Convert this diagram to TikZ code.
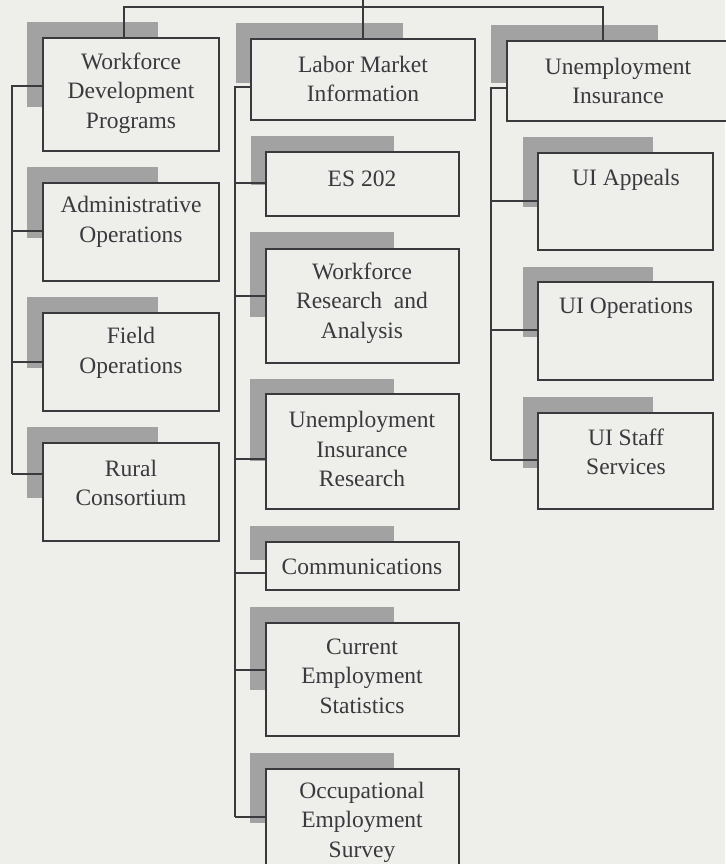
\documentclass[tikz,border=0pt]{standalone}
\usepackage{fontspec}
\setmainfont{Liberation Serif}
\usetikzlibrary{fit}
\definecolor{bg}{RGB}{238,238,235}
\definecolor{ink}{RGB}{58,58,62}
\definecolor{shade}{RGB}{162,162,162}
\begin{document}
\begin{tikzpicture}[x=1pt,y=-1pt,
  box/.style={draw=ink,line width=1.4pt,fill=bg,inner sep=0pt,outer sep=0pt,rectangle},
  lbl/.style={text=ink,align=center,inner sep=0pt,font=\fontsize{23.5pt}{29.5pt}\selectfont},
  conn/.style={draw=ink,line width=1.2pt},
  shadowbox/.style={fill=shade}]
\useasboundingbox[fill=bg] (0,0) rectangle (725,864);
% shadows
\fill[shadowbox] (27,22) rectangle (158,107);
\fill[shadowbox] (27,167) rectangle (158,238);
\fill[shadowbox] (27,297) rectangle (158,368);
\fill[shadowbox] (27,427) rectangle (158,498);
\fill[shadowbox] (236,23) rectangle (403,83);
\fill[shadowbox] (251,136) rectangle (394,185);
\fill[shadowbox] (250,232) rectangle (394,317);
\fill[shadowbox] (250,379) rectangle (394,461);
\fill[shadowbox] (250,526) rectangle (394,560);
\fill[shadowbox] (250,607) rectangle (394,690);
\fill[shadowbox] (250,753) rectangle (394,823);
\fill[shadowbox] (491,25) rectangle (658,83);
\fill[shadowbox] (523,137) rectangle (653,207);
\fill[shadowbox] (523,267) rectangle (653,337);
\fill[shadowbox] (523,397) rectangle (653,468);
% boxes
\node[box,fit={(43,38) (219,151)}] (wdp) {};
\node[box,fit={(43,183) (219,281)}] (adm) {};
\node[box,fit={(43,313) (219,411)}] (fld) {};
\node[box,fit={(43,443) (219,541)}] (rur) {};
\node[box,fit={(251,39) (475,120)}] (lmi) {};
\node[box,fit={(266,152) (459,216)}] (es) {};
\node[box,fit={(266,249) (459,363)}] (wra) {};
\node[box,fit={(266,394) (459,509)}] (uir) {};
\node[box,fit={(266,542) (459,590)}] (com) {};
\node[box,fit={(266,623) (459,736)}] (ces) {};
\node[box,fit={(266,769) (459,890)}] (oes) {};
\node[box,fit={(507,41) (735,121)}] (ui) {};
\node[box,fit={(538,153) (713,250)}] (uia) {};
\node[box,fit={(538,282) (713,380)}] (uio) {};
\node[box,fit={(538,413) (713,509)}] (uis) {};
% labels
\node[lbl] (wdpT) at (131,93) {Workforce\\Development\\Programs};
\node[lbl] (admT) at (131,222) {Administrative\\Operations};
\node[lbl] (fldT) at (131,353) {Field\\Operations};
\node[lbl] (rurT) at (131,483) {Rural\\Consortium};
\node[lbl] (lmiT) at (363,79) {Labor Market\\Information};
\node[lbl] (esT) at (362,179) {ES 202};
\node[lbl] (wraT) at (362,303) {Workforce\\Research\ \ and\\Analysis};
\node[lbl] (uirT) at (362,449) {Unemployment\\Insurance\\Research};
\node[lbl] (comT) at (362,567) {Communications};
\node[lbl] (cesT) at (362,676) {Current\\Employment\\Statistics};
\node[lbl] (oesT) at (362,822) {Occupational\\Employment\\Survey};
\node[lbl] (uiT) at (618,81) {Unemployment\\Insurance};
\node[lbl] (uiaT) at (626,180) {UI Appeals};
\node[lbl] (uioT) at (626,308) {UI Operations};
\node[lbl] (uisT) at (626,452) {UI Staff\\Services};
% connectors
\coordinate (top) at (363,0);
\coordinate (busL) at (124,7);
\coordinate (busR) at (603,7);
\draw[conn] (top) -- (lmi.north);
\draw[conn] (wdp.north -| busL) |- (busR) -- (ui.north -| busR);
\draw[conn] (wdp.west |- 0,86) -| (12,474);
\foreach \n/\y in {adm/231,fld/362,rur/474}
  \draw[conn] (12,\y) -- (\n.west |- 0,\y);
\draw[conn] (lmi.west |- 0,87) -| (235,817);
\foreach \n/\y in {es/183,wra/296,uir/459,com/573,ces/670,oes/817}
  \draw[conn] (235,\y) -- (\n.west |- 0,\y);
\draw[conn] (ui.west |- 0,88) -| (491,460);
\foreach \n/\y in {uia/201,uio/330,uis/460}
  \draw[conn] (491,\y) -- (\n.west |- 0,\y);
\end{tikzpicture}
\end{document}
